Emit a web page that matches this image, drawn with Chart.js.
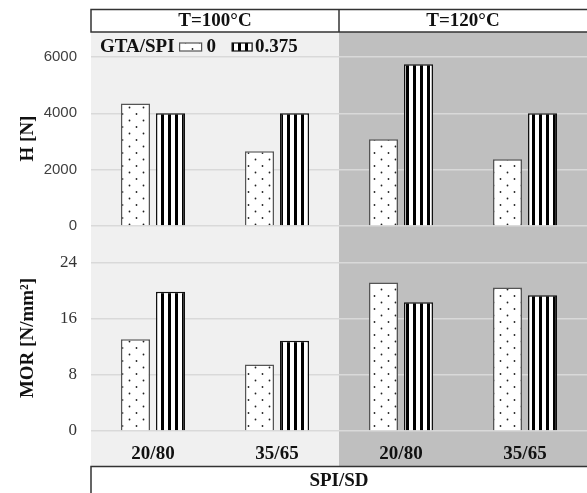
<!DOCTYPE html>
<html>
<head>
<meta charset="utf-8">
<script src="https://cdn.jsdelivr.net/npm/chart.js@4.4.1/dist/chart.umd.min.js"></script>
<style>
  html, body { margin: 0; padding: 0; background: #fff; }
  canvas { display: block; }
</style>
</head>
<body>
<canvas id="c" width="587" height="493"></canvas>
<script>
// data
const CATEGORIES = ["20/80", "35/65", "20/80", "35/65"];
const TEMPS = ["T=100°C", "T=120°C"];
const SERIES = ["0", "0.375"];
const H_0 = [4350, 2650, 3080, 2370];
const H_0375 = [4000, 4000, 5740, 4000];
const MOR_0 = [13.1, 9.5, 21.2, 20.5];
const MOR_0375 = [19.9, 12.9, 18.4, 19.4];
const H_TICKS = [0, 1000, 2000, 3000, 4000, 5000, 6000];
const MOR_TICKS = [0, 4, 8, 12, 16, 20, 24];

const SERIF = '"Liberation Serif", "Times New Roman", serif';
const SANS = '"Liberation Sans", Arial, sans-serif';

const canvas = document.getElementById("c");
const ctx = canvas.getContext("2d");

function dotPattern() {
  const t = document.createElement("canvas");
  t.width = 14; t.height = 13;
  const g = t.getContext("2d");
  g.fillStyle = "#fff"; g.fillRect(0, 0, 14, 13);
  g.fillStyle = "#222";
  g.beginPath(); g.arc(3.5, 3.5, 0.9, 0, Math.PI * 2); g.fill();
  g.beginPath(); g.arc(10.5, 10, 0.9, 0, Math.PI * 2); g.fill();
  return ctx.createPattern(t, "repeat");
}

function stripePattern() {
  const t = document.createElement("canvas");
  t.width = 7; t.height = 4;
  const g = t.getContext("2d");
  g.fillStyle = "#fff"; g.fillRect(0, 0, 7, 4);
  g.fillStyle = "#000"; g.fillRect(0, 0, 3, 4);
  return ctx.createPattern(t, "repeat");
}

const DOTS = dotPattern();
const STRIPES = stripePattern();

const decor = {
  id: "decor",
  beforeDraw(chart) {
    const { ctx, chartArea: a, scales: { x } } = chart;
    const mid = x.getPixelForValue(1.5);
    const bottom = x.bottom;
    ctx.save();
    ctx.fillStyle = "#f0f0f0";
    ctx.fillRect(a.left, a.top, mid - a.left, bottom - a.top);
    ctx.fillStyle = "#bfbfbf";
    ctx.fillRect(mid, a.top, a.right - mid, bottom - a.top);

    // header boxes
    ctx.strokeStyle = "#333";
    ctx.lineWidth = 1.5;
    ctx.strokeRect(a.left, 9.5, a.right - a.left + 4, a.top - 9.5);
    ctx.beginPath(); ctx.moveTo(mid, 9.5); ctx.lineTo(mid, a.top); ctx.stroke();
    // bottom box
    ctx.beginPath();
    ctx.moveTo(a.left, chart.height + 2);
    ctx.lineTo(a.left, bottom + 0.5);
    ctx.lineTo(a.right + 2, bottom + 0.5);
    ctx.stroke();

    ctx.fillStyle = "#111";
    ctx.font = "bold 19px " + SERIF;
    ctx.textAlign = "center";
    ctx.textBaseline = "middle";
    ctx.fillText(TEMPS[0], x.getPixelForValue(0.5), 21);
    ctx.fillText(TEMPS[1], x.getPixelForValue(2.5), 21);
    ctx.fillText("SPI/SD", mid, 481);
    ctx.restore();
  },
  afterDatasetsDraw(chart) {
    const { ctx } = chart;
    ctx.save();
    ctx.font = "bold 19px " + SERIF;
    ctx.fillStyle = "#111";
    ctx.textAlign = "left";
    ctx.textBaseline = "middle";
    let px = 100;
    const y = 47;
    ctx.fillText("GTA/SPI", px, y);
    px += ctx.measureText("GTA/SPI").width + 5;
    ctx.lineWidth = 1.2;
    ctx.fillStyle = DOTS; ctx.strokeStyle = "#555";
    ctx.fillRect(px, y - 4, 22, 8); ctx.strokeRect(px, y - 4, 22, 8);
    px += 27;
    ctx.fillStyle = "#111";
    ctx.fillText(SERIES[0], px, y);
    px += ctx.measureText(SERIES[0]).width + 16;
    ctx.fillStyle = STRIPES; ctx.strokeStyle = "#111";
    ctx.fillRect(px, y - 4, 20, 8); ctx.strokeRect(px, y - 4, 20, 8);
    px += 23;
    ctx.fillStyle = "#111";
    ctx.fillText(SERIES[1], px, y);
    ctx.restore();
  },
};

const barOpts = { barPercentage: 0.83, categoryPercentage: 0.565, borderWidth: 1.5 };

new Chart(canvas, {
  type: "bar",
  data: {
    labels: CATEGORIES,
    datasets: [
      { label: SERIES[0], data: H_0, yAxisID: "yH", stack: "s0", backgroundColor: DOTS, borderColor: "#555", ...barOpts },
      { label: SERIES[1], data: H_0375, yAxisID: "yH", stack: "s1", backgroundColor: STRIPES, borderColor: "#111", ...barOpts },
      { label: SERIES[0], data: MOR_0, yAxisID: "yM", stack: "s0", backgroundColor: DOTS, borderColor: "#555", ...barOpts },
      { label: SERIES[1], data: MOR_0375, yAxisID: "yM", stack: "s1", backgroundColor: STRIPES, borderColor: "#111", ...barOpts },
    ],
  },
  options: {
    responsive: false,
    animation: false,
    layout: { padding: { top: 32, bottom: 27, left: 0, right: 0 } },
    plugins: { legend: { display: false }, tooltip: { enabled: false } },
    scales: {
      x: {
        grid: { display: false },
        border: { display: false },
        ticks: { color: "#111", padding: 4, font: { family: SERIF, size: 19, weight: "bold" } },
        afterFit: (s) => { s.height = 35; },
      },
      // left-side boxes are laid out in reverse order, so the lower axis comes first
      yM: {
        type: "linear", position: "left", stack: "v", stackWeight: 186,
        min: 0, max: 26.57,
        afterBuildTicks: (s) => { s.ticks = MOR_TICKS.map((v) => ({ value: v })); },
        grid: { color: "#d9d9d9", lineWidth: 1.5, drawTicks: false },
        border: { display: false },
        ticks: {
          padding: 14, color: "#333", font: { family: SERIF, size: 17 },
          callback: (v) => (v % 8 === 0 ? v : ""),
        },
        title: { display: true, text: "MOR [N/mm²]", color: "#111", padding: { top: 17 }, font: { family: SERIF, size: 19, weight: "bold" } },
        afterFit: (s) => { s.width = 91; },
      },
      yH: {
        type: "linear", position: "left", stack: "v", stackWeight: 213,
        min: -675, max: 6888,
        afterBuildTicks: (s) => { s.ticks = H_TICKS.map((v) => ({ value: v })); },
        grid: { color: "#d9d9d9", lineWidth: 1.5, drawTicks: false },
        border: { display: false },
        ticks: {
          padding: 14, color: "#404040", font: { family: SANS, size: 15 },
          callback: (v) => (v % 2000 === 0 ? v : ""),
        },
        title: { display: true, text: "H [N]", color: "#111", padding: { top: 17 }, font: { family: SERIF, size: 19, weight: "bold" } },
        afterFit: (s) => { s.width = 91; },
      },
    },
  },
  plugins: [decor],
});
</script>
</body>
</html>
